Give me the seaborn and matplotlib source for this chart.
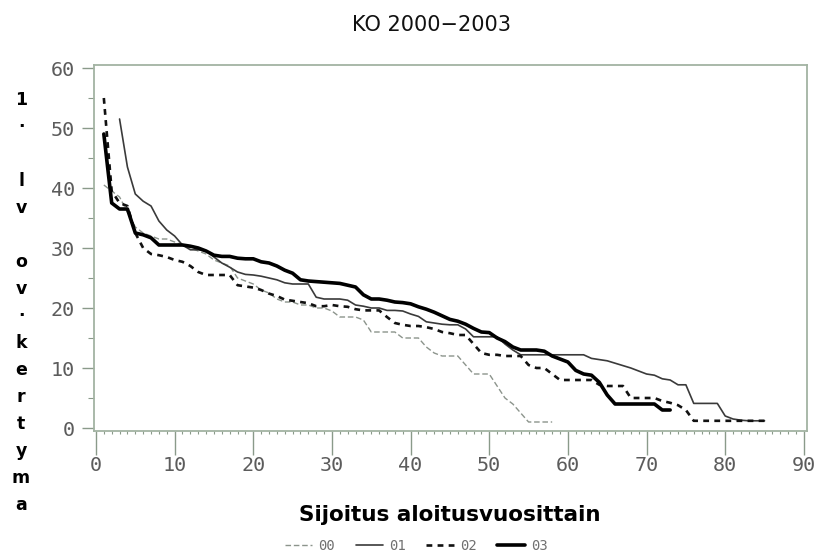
import numpy as np
import pandas as pd
import matplotlib
matplotlib.use("Agg")
import matplotlib.pyplot as plt
import seaborn as sns
from matplotlib.ticker import MultipleLocator

title = "KO 2000\u22122003"
x_label = "Sijoitus aloitusvuosittain"
y_label = "1.lv ov.kertyma"
series_names = ["00", "01", "02", "03"]

start_00 = 1
vals_00 = [40.5, 39.5, 38.5, 36, 33.5, 32.5, 32, 31.5, 31.5, 31, 30.5, 30, 29.5, 29, 28,
           27.5, 27, 25, 24.5, 24, 23, 22.5, 21.5, 21, 21, 20.5, 20.5, 20, 20, 19.5,
           18.5, 18.5, 18.5, 18, 16, 16, 16, 16, 15, 15, 15, 13.5, 12.5, 12, 12, 12,
           10.5, 9, 9, 9, 7, 5, 4, 2.5, 1, 1, 1, 1]

start_01 = 3
vals_01 = [51.5, 43.5, 39, 37.8, 37, 34.5, 33, 32, 30.5, 29.7, 29.7, 29.5, 28.5, 27.5,
           26.8, 26, 25.6, 25.5, 25.3, 25, 24.7, 24.2, 24, 24, 24, 21.8, 21.5, 21.5,
           21.5, 21.3, 20.5, 20.3, 20, 20, 19.6, 19.6, 19.5, 19, 18.6, 17.7, 17.5, 17.3,
           17.2, 17.2, 16.5, 15.2, 15.2, 15.2, 15.2, 14, 13, 12.2, 12.2, 12.2, 12.2,
           12.2, 12.2, 12.2, 12.2, 12.2, 11.6, 11.4, 11.2, 10.8, 10.4, 10, 9.5, 9, 8.8,
           8.2, 8, 7.2, 7.2, 4.1, 4.1, 4.1, 4.1, 2, 1.5, 1.3, 1.2, 1.2, 1.2]

start_02 = 1
vals_02 = [55, 39.5, 37.5, 37, 32.5, 30, 29, 28.8, 28.5, 28, 27.7, 27, 26, 25.5, 25.5,
           25.5, 25.5, 23.8, 23.6, 23.4, 23, 22.4, 22, 21.4, 21.2, 21, 20.8, 20.3, 20.3,
           20.5, 20.3, 20.2, 19.8, 19.6, 19.6, 19.6, 18.5, 17.5, 17.2, 17, 17, 16.8,
           16.5, 16, 15.8, 15.5, 15.5, 14, 12.5, 12.2, 12.2, 12, 12, 12, 10.5, 10, 10,
           9, 8, 8, 8, 8, 8, 7.2, 7, 7, 7, 5, 5, 5, 5, 4.5, 4.2, 3.8, 3, 1.2, 1.2, 1.2,
           1.2, 1.2, 1.2, 1.2, 1.2, 1.2, 1.2]

start_03 = 1
vals_03 = [49, 37.5, 36.5, 36.5, 32.5, 32.2, 31.7, 30.5, 30.5, 30.5, 30.5, 30.3, 30,
           29.5, 28.8, 28.6, 28.6, 28.3, 28.2, 28.2, 27.7, 27.5, 27, 26.3, 25.8, 24.7,
           24.5, 24.4, 24.3, 24.2, 24.1, 23.8, 23.5, 22.2, 21.5, 21.5, 21.3, 21, 20.9,
           20.7, 20.2, 19.8, 19.3, 18.7, 18.1, 17.8, 17.3, 16.6, 16, 15.9, 15, 14.4,
           13.5, 13, 13, 13, 12.8, 12, 11.5, 11, 9.6, 9, 8.8, 7.6, 5.5, 4, 4, 4, 4, 4,
           4, 3, 3]

x_ticks = [0, 10, 20, 30, 40, 50, 60, 70, 80, 90]
y_ticks = [0, 10, 20, 30, 40, 50, 60]

frames = []
for name, start, vals in [("00", start_00, vals_00), ("01", start_01, vals_01),
                          ("02", start_02, vals_02), ("03", start_03, vals_03)]:
    frames.append(pd.DataFrame({"rank": np.arange(start, start + len(vals)),
                                "value": vals, "series": name}))
df = pd.concat(frames, ignore_index=True)

sns.set_style("white")
plt.rcParams["font.family"] = ["DejaVu Sans"]

W, H = 823, 557
fig = plt.figure(figsize=(W / 100, H / 100), dpi=100)
ax = fig.add_axes([94 / W, 1 - 431 / H, (807 - 94) / W, (431 - 65) / H])

styles = {
    "00": dict(color="#8c948c", lw=1.0, dashes=(4, 2)),
    "01": dict(color="#3a3a3a", lw=1.2, dashes=None),
    "02": dict(color="#111111", lw=1.9, dashes=(2.2, 2.0)),
    "03": dict(color="#000000", lw=2.6, dashes=None),
}
handles = []
for name in series_names:
    st = styles[name]
    sub = df[df["series"] == name]
    sns.lineplot(data=sub, x="rank", y="value", ax=ax, color=st["color"],
                 linewidth=st["lw"], label=name, legend=False, estimator=None)
    line = ax.get_lines()[-1]
    if st["dashes"] is not None:
        line.set_dashes(st["dashes"])
    handles.append(line)

ax.set_xlim(-0.25, 90.4)
ax.set_ylim(-0.5, 60.5)
ax.set_xticks(x_ticks)
ax.set_yticks(y_ticks)
ax.xaxis.set_minor_locator(MultipleLocator(1))
ax.yaxis.set_minor_locator(MultipleLocator(5))
ax.set_xlabel("")
ax.set_ylabel("")

spine_col = "#a3b3a3"
for s in ax.spines.values():
    s.set_color(spine_col)
    s.set_linewidth(1.3)
ax.tick_params(axis="x", which="major", direction="out", length=17, width=1.0,
               color="#8a9a8a", pad=1)
ax.tick_params(axis="x", which="minor", direction="out", length=2.5, width=0.8,
               color="#8a9a8a")
ax.tick_params(axis="y", which="major", direction="out", length=8.5, width=1.0,
               color="#8a9a8a", pad=5)
ax.tick_params(axis="y", which="minor", direction="out", length=4, width=0.8,
               color="#8a9a8a")
ax.tick_params(axis="both", which="both", bottom=True, left=True, top=False, right=False)
for lab in ax.get_xticklabels() + ax.get_yticklabels():
    lab.set_fontfamily("DejaVu Sans Mono")
    lab.set_fontsize(14.5)
    lab.set_color("#5c5c5c")

fig.text(431 / W, 1 - 25 / H, title, ha="center", va="center", fontsize=15,
         color="#111111")
fig.text(450 / W, 1 - 515 / H, x_label, ha="center", va="center", fontsize=15.5,
         fontweight="bold", color="#000000")

chars = ["1", "\u00b7", "", "l", "v", "", "o", "v", "\u00b7", "k", "e", "r", "t", "y", "m", "a"]
y0, pitch = 100, 27
for i, ch in enumerate(chars):
    if ch:
        fig.text(21 / W, 1 - (y0 + i * pitch) / H, ch, ha="center", va="center",
                 fontsize=12.5, fontweight="bold", color="#000000")

leg = fig.legend(handles=handles, labels=series_names, loc="center",
                 bbox_to_anchor=(416 / W, 1 - 546 / H), ncol=4, frameon=False,
                 handlelength=2.0, handletextpad=0.4, columnspacing=1.5,
                 prop={"family": "DejaVu Sans Mono", "size": 10})
for t in leg.get_texts():
    t.set_color("#707070")

fig.savefig("out.png", dpi=100)
